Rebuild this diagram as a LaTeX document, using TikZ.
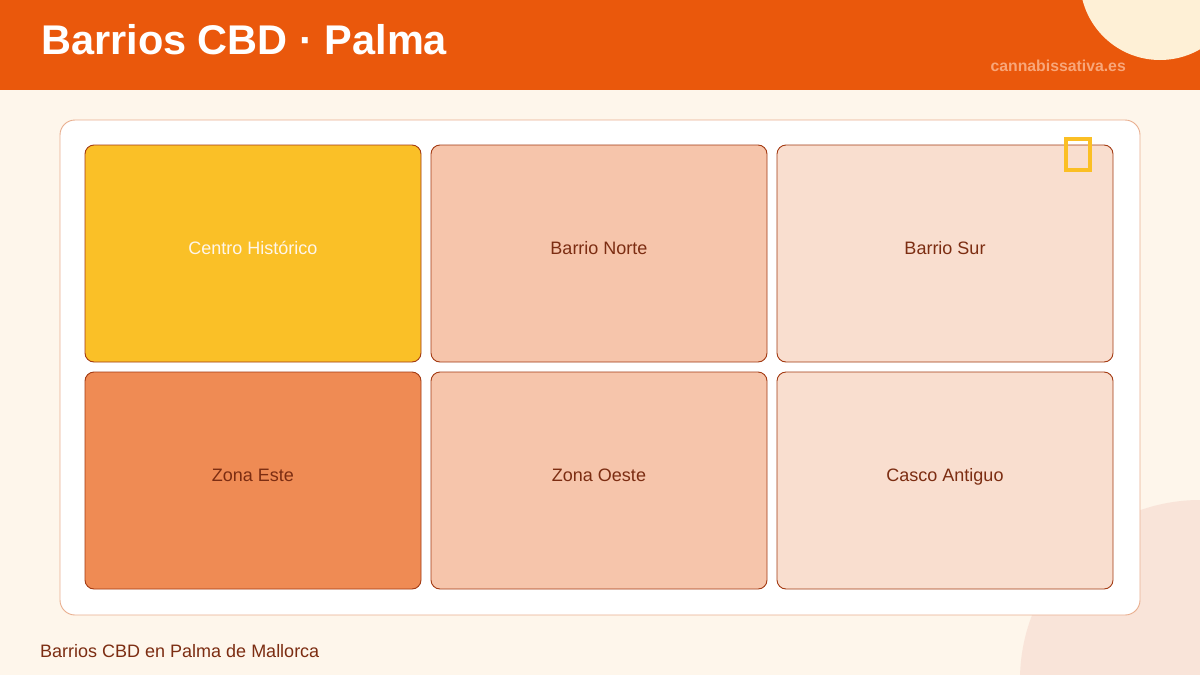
\documentclass[tikz,border=0pt]{standalone}
\usepackage{fontspec}
\setmainfont{Liberation Sans}
\usetikzlibrary{calc}
\definecolor{bg}{HTML}{FEF6EB}
\definecolor{hdr}{HTML}{EA580C}
\definecolor{circA}{HTML}{FEF0D6}
\definecolor{circB}{HTML}{F9E4D9}
\definecolor{panelborder}{HTML}{E9AE8E}
\definecolor{cellborder}{HTML}{A33A12}
\definecolor{txt}{HTML}{7C2D12}
\definecolor{fyellow}{HTML}{FAC027}
\definecolor{fdark}{HTML}{EF8B54}
\definecolor{fmid}{HTML}{F6C5AB}
\definecolor{flight}{HTML}{F9DECF}
\definecolor{site}{HTML}{F8A679}
\definecolor{iconc}{HTML}{FBBF24}
\tikzset{
  cellbox/.style={draw=cellborder, line width=0.9pt, rounded corners=9pt,
    minimum width=336pt, minimum height=217pt, inner sep=0pt},
  lbl/.style={anchor=base, font=\fontsize{18}{20}\selectfont, text=txt, inner sep=0pt},
}
\begin{document}
\begin{tikzpicture}[x=1pt,y=-1pt]
\useasboundingbox (0,0) rectangle (1200,675);
\fill[bg] (0,0) rectangle (1200,675);
% decorative circles
\fill[circB] (1200,680) circle (180);
% header
\fill[hdr] (0,0) rectangle (1200,90);
\begin{scope}
\clip (0,0) rectangle (1200,90);
\fill[circA] (1160,-20) circle (80);
\end{scope}
\node[anchor=base west, inner sep=0pt, text=white, font=\fontsize{41.5}{44}\selectfont\bfseries] (title) at (41,54) {Barrios CBD · Palma};
\node[anchor=base east, inner sep=0pt, text=site, font=\fontsize{15.8}{17}\selectfont\bfseries] (site) at (1126,71) {cannabissativa.es};
% panel
\node[draw=panelborder, line width=0.9pt, fill=white, rounded corners=15pt, minimum width=1080pt, minimum height=495pt, inner sep=0pt] (panel) at (600,367.5) {};
% cells
\node[cellbox, fill=fyellow] (c1) at (253,253.5) {};
\node[cellbox, fill=fmid] (c2) at (599,253.5) {};
\node[cellbox, fill=flight] (c3) at (945,253.5) {};
\node[cellbox, fill=fdark] (c4) at (253,480.5) {};
\node[cellbox, fill=fmid] (c5) at (599,480.5) {};
\node[cellbox, fill=flight] (c6) at (945,480.5) {};
\node[lbl, text=bg] (t1) at ($(c1.center)+(0,1)$) {Centro Histórico};
\node[lbl] (t2) at ($(c2.center)+(0,1)$) {Barrio Norte};
\node[lbl] (t3) at ($(c3.center)+(0,1)$) {Barrio Sur};
\node[lbl] (t4) at ($(c4.center)+(0,1)$) {Zona Este};
\node[lbl] (t5) at ($(c5.center)+(0,1)$) {Zona Oeste};
\node[lbl] (t6) at ($(c6.center)+(0,1)$) {Casco Antiguo};
% icon placeholder
\draw[iconc, line width=3.2pt] (1066,139) rectangle (1090,170);
% footer
\node[anchor=base west, inner sep=0pt, text=txt, font=\fontsize{18}{20}\selectfont] (foot) at (40,657) {Barrios CBD en Palma de Mallorca};
\end{tikzpicture}
\end{document}
